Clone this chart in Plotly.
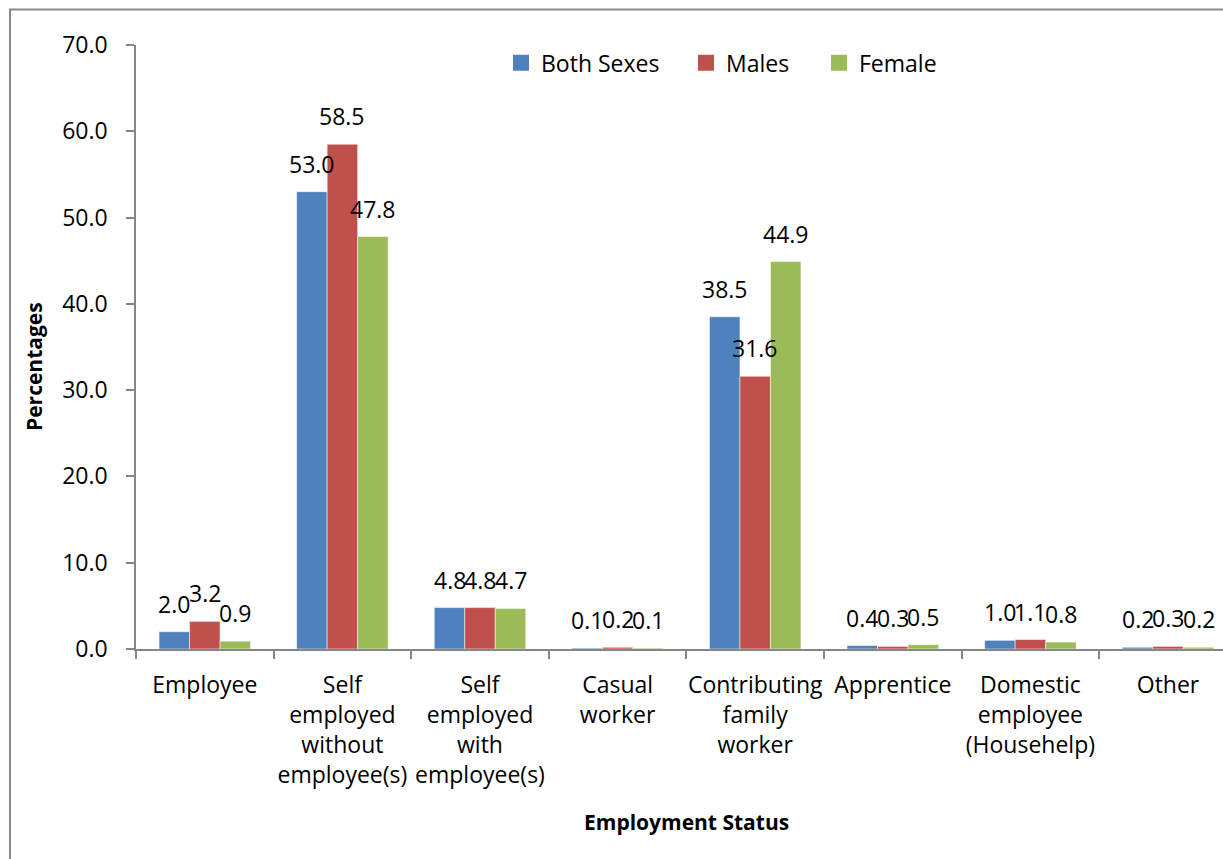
import plotly.graph_objects as go

categories = ["Employee", "Self<br>employed<br>without<br>employee(s)", "Self<br>employed<br>with<br>employee(s)",
              "Casual<br>worker", "Contributing<br>family<br>worker", "Apprentice",
              "Domestic<br>employee<br>(Househelp)", "Other"]
series_names = ["Both Sexes", "Males", "Female"]
both_sexes = [2.0, 53.0, 4.8, 0.1, 38.5, 0.4, 1.0, 0.2]
males = [3.2, 58.5, 4.8, 0.2, 31.6, 0.3, 1.1, 0.3]
female = [0.9, 47.8, 4.7, 0.1, 44.9, 0.5, 0.8, 0.2]
y_ticks = [0, 10, 20, 30, 40, 50, 60, 70]

colors = ["#4F81BD", "#C0504D", "#9BBB59"]
FONT = "Open Sans"
FS = 23

W, H = 1223, 859
L, T, B = 136, 45, 649
PW, PH = W - L, B - T

def xp(px):
    return (px - L) / PW

def yp(py):
    return (B - py) / PH

fig = go.Figure()
bargap = 0.335
bw = (1 - bargap) / 3
all_vals = [both_sexes, males, female]
legend_names = ["legend", "legend2", "legend3"]
for k, (name, vals, col) in enumerate(zip(series_names, all_vals, colors)):
    fig.add_trace(go.Bar(x=categories, y=vals, name=name, marker_color=col,
                         marker_line=dict(color="rgba(255,255,255,0.5)", width=1),
                         showlegend=False))
    fig.add_trace(go.Scatter(x=[None], y=[None], mode="markers", name=name,
                             marker=dict(symbol="square", size=16, color=col),
                             legend=legend_names[k], showlegend=True))

annotations = []
for k, vals in enumerate(all_vals):
    off = (k - 1) * bw
    for i, v in enumerate(vals):
        annotations.append(dict(x=i + off, y=v, xref="x", yref="y", text=f"{v:.1f}",
                                showarrow=False, yanchor="bottom", xanchor="center", yshift=10,
                                font=dict(family=FONT, size=FS, color="#000")))

annotations.append(dict(x=xp(686), y=yp(822), xref="paper", yref="paper", text="<b>Employment Status</b>",
                        showarrow=False, xanchor="center", yanchor="middle",
                        font=dict(family=FONT, size=21, color="#000")))
annotations.append(dict(x=xp(34), y=yp(367), xref="paper", yref="paper", text="<b>Percentages</b>",
                        showarrow=False, xanchor="center", yanchor="middle", textangle=-90,
                        font=dict(family=FONT, size=21, color="#000")))

legend_x_px = [501, 686, 819]
legend_common = dict(orientation="h", yanchor="middle", xanchor="left", y=yp(62.7),
                     font=dict(family=FONT, size=FS, color="#000"), bgcolor="rgba(0,0,0,0)",
                     borderwidth=0)
fig.update_layout(
    width=W, height=H,
    margin=dict(l=L, r=0, t=T, b=H - B, pad=0),
    paper_bgcolor="white", plot_bgcolor="white",
    barmode="group", bargap=bargap, bargroupgap=0,
    font=dict(family=FONT, size=FS, color="#000"),
    legend=dict(x=xp(legend_x_px[0]), **legend_common),
    legend2=dict(x=xp(legend_x_px[1]), **legend_common),
    legend3=dict(x=xp(legend_x_px[2]), **legend_common),
    annotations=annotations,
    shapes=[dict(type="rect", xref="paper", yref="paper", x0=xp(10), x1=xp(1240), y0=yp(880), y1=yp(9.5),
                 line=dict(color="#888888", width=2), fillcolor="rgba(0,0,0,0)", layer="below")],
    xaxis=dict(type="category", range=[-0.5, -0.5 + PW / 137.6], showgrid=False, zeroline=False,
               showline=True, linecolor="#868686", linewidth=1.5, ticks="outside", ticklen=8,
               tickcolor="#868686", tickwidth=1.5, tickson="boundaries", tickangle=0,
               tickfont=dict(family=FONT, size=FS, color="#000"), ticklabelstandoff=15),
    yaxis=dict(range=[0, 70], tickvals=y_ticks, tickformat=".1f", showgrid=False, zeroline=False,
               showline=True, linecolor="#868686", linewidth=1.5, ticks="outside", ticklen=8,
               tickcolor="#868686", tickwidth=1.5,
               tickfont=dict(family=FONT, size=FS, color="#000"), ticklabelstandoff=14),
)

fig.write_html("out.html")
